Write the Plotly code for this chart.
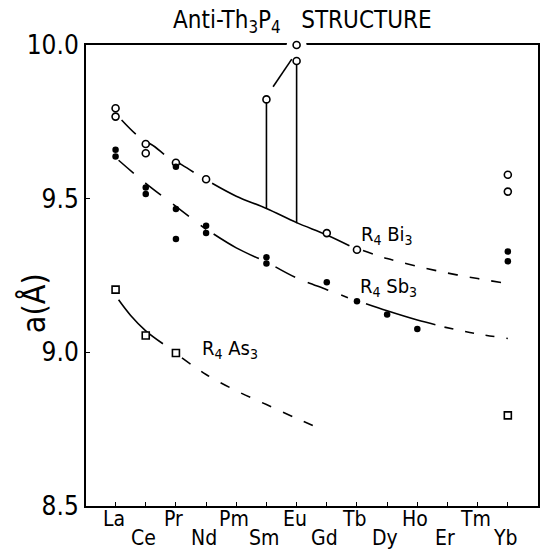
import plotly.graph_objects as go

# ---------------- data ----------------
elements = ["La", "Ce", "Pr", "Nd", "Pm", "Sm", "Eu", "Gd", "Tb", "Dy", "Ho", "Er", "Tm", "Yb"]
y_tick_vals = [8.5, 9.0, 9.5, 10.0]
y_tick_text = ["8.5", "9.0", "9.5", "10.0"]

# R4Bi3 (open circles): element index, lattice parameter a (Å)
bi_idx = [0, 0, 1, 1, 2, 3, 5, 6, 6, 7, 8, 13, 13]
bi_a = [9.794, 9.767, 9.678, 9.648, 9.617, 9.563, 9.823, 10.0, 9.948, 9.388, 9.334, 9.578, 9.523]

# R4Sb3 (filled circles)
sb_idx = [0, 0, 1, 1, 2, 2, 2, 3, 3, 5, 5, 7, 8, 9, 10, 13, 13]
sb_a = [9.659, 9.637, 9.536, 9.515, 9.604, 9.466, 9.369, 9.412, 9.388, 9.309, 9.289,
        9.228, 9.166, 9.123, 9.076, 9.328, 9.296]

# R4As3 (open squares)
as_idx = [0, 1, 2, 13]
as_a = [9.204, 9.055, 8.998, 8.795]

# fitted trend curves (position along the series, a)
bi_fit_left_x = [0.2, 0.8, 1.3, 1.7, 2.2, 2.8]
bi_fit_left_y = [9.756, 9.699, 9.669, 9.637, 9.610, 9.572]
bi_fit_mid_x = [3.2, 4, 5, 6, 7, 7.75]
bi_fit_mid_y = [9.550, 9.508, 9.468, 9.422, 9.382, 9.347]
bi_fit_right_x = [8.2, 9, 10, 11, 12, 12.9]
bi_fit_right_y = [9.331, 9.305, 9.280, 9.258, 9.240, 9.225]

sb_fit_left_x = [0.1, 1, 2, 3.0]
sb_fit_left_y = [9.625, 9.550, 9.475, 9.400]
sb_fit_mid_x = [3.25, 4, 4.75]
sb_fit_mid_y = [9.385, 9.340, 9.305]
sb_fit_dash_x = [5.3, 6, 7, 7.7]
sb_fit_dash_y = [9.278, 9.242, 9.204, 9.178]
sb_fit_solid_x = [8.3, 9, 10, 10.6]
sb_fit_solid_y = [9.158, 9.135, 9.105, 9.090]
sb_fit_right_x = [10.9, 12, 13]
sb_fit_right_y = [9.082, 9.060, 9.045]

as_fit_solid_x = [0.1, 0.5, 1, 1.57]
as_fit_solid_y = [9.171, 9.120, 9.070, 9.028]
as_fit_dash_x = [2.2, 3, 4, 5, 6, 6.7]
as_fit_dash_y = [8.982, 8.928, 8.875, 8.830, 8.785, 8.755]

# tie lines for Sm and Eu bismuthides
sm_tie_x = [5, 5]
sm_tie_y = [9.823, 9.468]
eu_tie_x = [6, 6]
eu_tie_y = [9.948, 9.420]
smeu_link_x = [5.22, 5.84]
smeu_link_y = [9.864, 9.954]

label_bi = (9.0, 9.383)
label_sb = (9.05, 9.212)
label_as = (3.8, 9.012)

FONT = "Liberation Sans Narrow, DejaVu Sans Condensed, Arial, sans-serif"
LW = 1.6

fig = go.Figure()

def curve(x, y, dash):
    fig.add_trace(go.Scatter(x=x, y=y, mode="lines", line=dict(color="black", width=LW, dash=dash, shape="spline"),
                             hoverinfo="skip", showlegend=False))

curve(bi_fit_left_x, bi_fit_left_y, "20px,15px")
curve(bi_fit_mid_x, bi_fit_mid_y, "solid")
curve(bi_fit_right_x, bi_fit_right_y, "10px,12px")
curve(sb_fit_left_x, sb_fit_left_y, "20px,15px")
curve(sb_fit_mid_x, sb_fit_mid_y, "solid")
curve(sb_fit_dash_x, sb_fit_dash_y, "22px,14px")
curve(sb_fit_solid_x, sb_fit_solid_y, "solid")
curve(sb_fit_right_x, sb_fit_right_y, "9px,12px")
curve(as_fit_solid_x, as_fit_solid_y, "solid")
curve(as_fit_dash_x, as_fit_dash_y, "10px,13px")
curve(sm_tie_x, sm_tie_y, "solid")
curve(eu_tie_x, eu_tie_y, "solid")
curve(smeu_link_x, smeu_link_y, "solid")

# white halo to break the frame at the top Eu point
fig.add_trace(go.Scatter(x=[bi_idx[7]], y=[bi_a[7]], mode="markers", cliponaxis=False,
                         marker=dict(symbol="circle", size=20, color="white", line=dict(width=0)),
                         hoverinfo="skip", showlegend=False))

fig.add_trace(go.Scatter(x=bi_idx, y=bi_a, mode="markers", cliponaxis=False,
                         marker=dict(symbol="circle", size=7, color="white", line=dict(color="black", width=1.6)),
                         showlegend=False))
fig.add_trace(go.Scatter(x=sb_idx, y=sb_a, mode="markers", cliponaxis=False,
                         marker=dict(symbol="circle", size=6.5, color="black", line=dict(width=0)),
                         showlegend=False))
fig.add_trace(go.Scatter(x=as_idx, y=as_a, mode="markers", cliponaxis=False,
                         marker=dict(symbol="square", size=7, color="white", line=dict(color="black", width=1.6)),
                         showlegend=False))

ann = []
for i, el in enumerate(elements):
    ann.append(dict(x=i, y=-0.028 if i % 2 == 0 else -0.070, xref="x", yref="paper", text=el,
                    showarrow=False, xanchor="center", yanchor="middle", xshift=-2,
                    font=dict(family=FONT, size=21, color="black")))
ann.append(dict(x=label_bi[0], y=label_bi[1], xref="x", yref="y", text="R<sub>4</sub> Bi<sub>3</sub>",
                showarrow=False, font=dict(family=FONT, size=20, color="black")))
ann.append(dict(x=label_sb[0], y=label_sb[1], xref="x", yref="y", text="R<sub>4</sub> Sb<sub>3</sub>",
                showarrow=False, font=dict(family=FONT, size=20, color="black")))
ann.append(dict(x=label_as[0], y=label_as[1], xref="x", yref="y", text="R<sub>4</sub> As<sub>3</sub>",
                showarrow=False, font=dict(family=FONT, size=20, color="black")))
ann.append(dict(x=0.48, y=1.05, xref="paper", yref="paper", text="Anti-Th<sub>3</sub>P<sub>4</sub>   STRUCTURE",
                showarrow=False, xanchor="center", yanchor="middle",
                font=dict(family=FONT, size=24, color="black")))
ann.append(dict(x=-0.115, y=0.44, xref="paper", yref="paper", text="a(Å)", textangle=-90,
                showarrow=False, xanchor="center", yanchor="middle",
                font=dict(family=FONT, size=32, color="black")))

fig.update_layout(
    width=542, height=554,
    margin=dict(l=86, r=2, t=45, b=48),
    paper_bgcolor="white", plot_bgcolor="white",
    annotations=ann,
    xaxis=dict(range=[-0.98, 14.0], tickvals=list(range(len(elements))), showticklabels=False,
               ticks="inside", ticklen=4, tickcolor="black", tickwidth=1.2,
               showline=True, linecolor="black", linewidth=2, mirror=True,
               showgrid=False, zeroline=False, layer="below traces", fixedrange=True),
    yaxis=dict(range=[8.5, 10.0], tickvals=y_tick_vals, ticktext=y_tick_text,
               ticks="inside", ticklen=4, tickcolor="black", tickwidth=1.2,
               showline=True, linecolor="black", linewidth=2, mirror=True,
               showgrid=False, zeroline=False, layer="below traces", fixedrange=True,
               tickfont=dict(family=FONT, size=26, color="black")),
)

fig.write_html("out.html")
